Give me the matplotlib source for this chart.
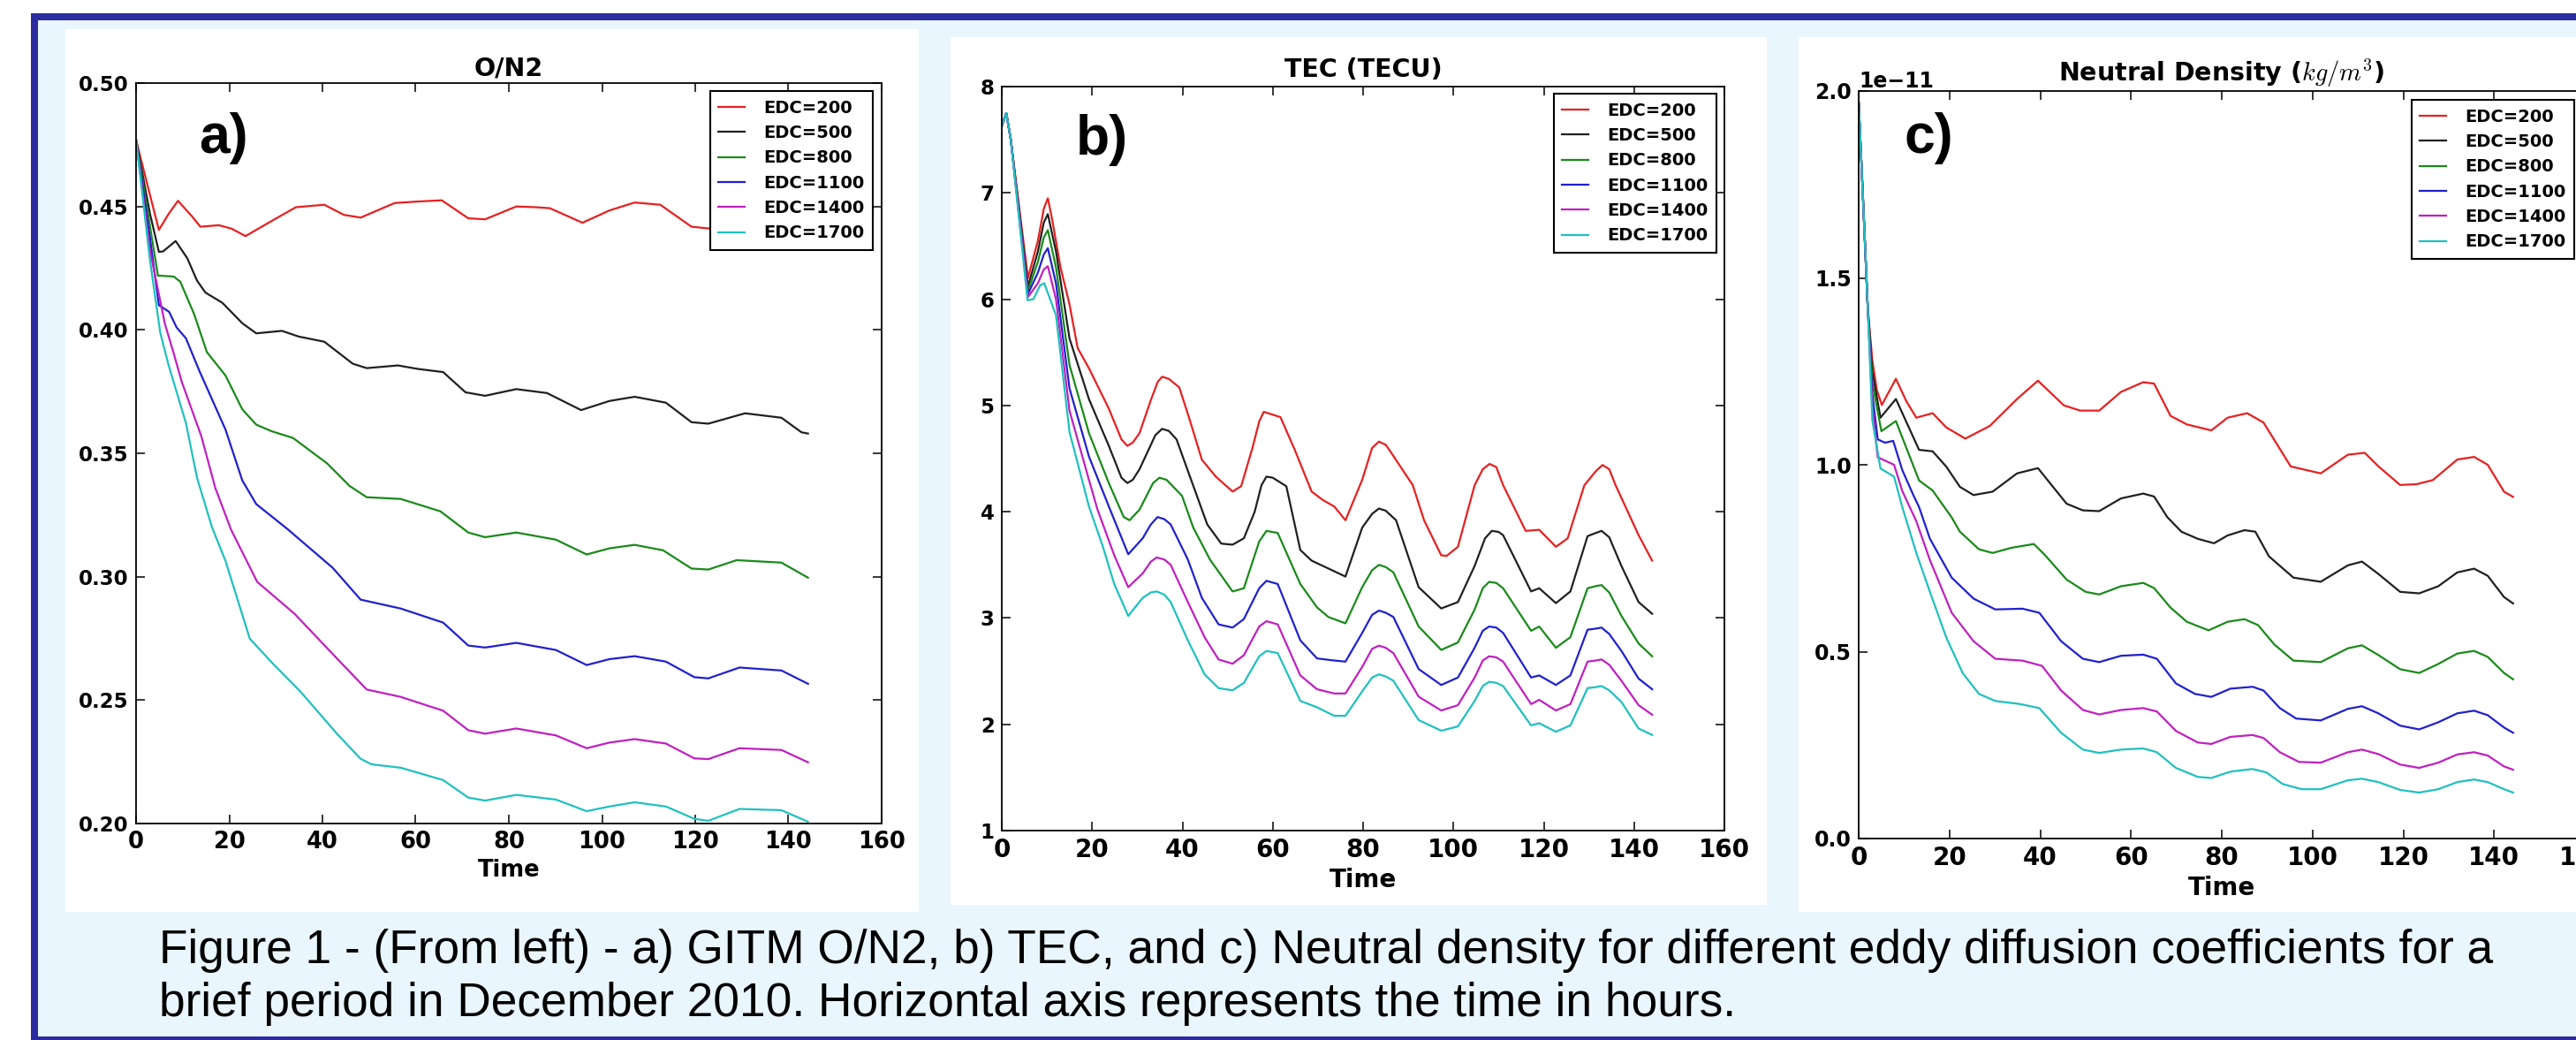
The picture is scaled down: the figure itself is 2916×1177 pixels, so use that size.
import numpy as np
import matplotlib
matplotlib.use('Agg')
import matplotlib.pyplot as plt
from matplotlib.patches import Rectangle

W, H = 2916, 1177

labels = ['EDC=200', 'EDC=500', 'EDC=800', 'EDC=1100', 'EDC=1400', 'EDC=1700']
colors = ['#e82020', '#202020', '#1a8a1a', '#2020d0', '#c020c0', '#20c0c0']

# ---- panel a: O/N2 ----
ta200 = [0, 2, 4.9, 7, 9.0, 12, 13.8, 17.8, 20.5, 23.5, 28.8, 34.3, 40.4, 44.6, 48.2, 55.5, 60.4, 65.6,
         71.3, 74.9, 81.6, 85.8, 88.8, 95.8, 101.6, 107, 112.5, 119.2, 122.8, 128, 133, 140, 144]
a200 = [0.477, 0.462, 0.4405, 0.447, 0.4523, 0.446, 0.4418, 0.4424, 0.441, 0.438, 0.4438, 0.4497, 0.4507,
        0.4466, 0.4455, 0.4514, 0.452, 0.4525, 0.4452, 0.4448, 0.45, 0.4497, 0.4493, 0.4434, 0.4484, 0.4516,
        0.4507, 0.4418, 0.4411, 0.4425, 0.4445, 0.4435, 0.442]
ta500 = [0, 3, 4.9, 5.8, 8.5, 11, 13.1, 14.9, 18.5, 22.8, 25.8, 31.3, 34.9, 40.4, 46.5, 49.5, 56.2, 60.4,
         65.9, 70.7, 74.9, 81.6, 88.2, 95.5, 101.6, 107, 113.7, 119.2, 122.8, 130.7, 138.5, 142.8, 144.2]
a500 = [0.477, 0.447, 0.4316, 0.4318, 0.436, 0.429, 0.4199, 0.4151, 0.411, 0.4027, 0.3986, 0.3996, 0.3973,
        0.3952, 0.3863, 0.3845, 0.3856, 0.3842, 0.3829, 0.3747, 0.3733, 0.376, 0.3744, 0.3675, 0.3712,
        0.3729, 0.3705, 0.3626, 0.362, 0.3662, 0.3644, 0.3585, 0.358]
ta800 = [0, 4.7, 8.1, 9.5, 12.5, 15.2, 19.2, 22.8, 25.8, 29, 33.7, 41, 45.8, 49.5, 56.8, 65.3, 71.3, 74.9,
         81.6, 90.1, 96.7, 101.6, 107, 113.1, 119.2, 122.8, 128.9, 138.5, 144.2]
a800 = [0.477, 0.422, 0.4216, 0.4195, 0.4062, 0.3910, 0.3815, 0.3678, 0.3616, 0.359, 0.3562, 0.3459,
        0.3368, 0.3322, 0.3315, 0.3265, 0.3179, 0.316, 0.3179, 0.315, 0.309, 0.3115, 0.3129, 0.3107,
        0.3033, 0.3029, 0.3067, 0.3057, 0.2996]
ta1100 = [0, 3, 4.9, 7.1, 8.7, 10.7, 13.7, 19.2, 22.8, 25.8, 32.5, 42.2, 48.2, 56.8, 65.9, 71.3, 74.9, 81.6,
          90.1, 96.7, 101.6, 107, 113.7, 119.8, 122.8, 129.5, 138.5, 144.2]
a1100 = [0.477, 0.437, 0.41, 0.4073, 0.401, 0.3966, 0.3829, 0.3596, 0.339, 0.3294, 0.3193, 0.3036, 0.2907,
         0.2871, 0.2814, 0.2721, 0.2713, 0.2732, 0.2703, 0.2642, 0.2666, 0.2678, 0.2656, 0.2593, 0.2588,
         0.2632, 0.262, 0.2566]
ta1400 = [0, 3, 6.2, 8.1, 9.8, 14, 17, 20.4, 26, 34, 43.4, 49.5, 56.8, 65.9, 71.3, 74.9, 81.6, 90.1, 96.7,
          101.6, 107, 113.7, 119.8, 122.8, 129.5, 138.5, 144.2]
a1400 = [0.477, 0.432, 0.4024, 0.3904, 0.379, 0.357, 0.336, 0.319, 0.2979, 0.285, 0.2663, 0.2543, 0.2513,
         0.2457, 0.2378, 0.2364, 0.2385, 0.2357, 0.2305, 0.2328, 0.2342, 0.2324, 0.2264, 0.2261, 0.2305,
         0.2298, 0.2248]
ta1700 = [0, 3, 5.2, 7, 10.7, 13.1, 16.3, 19.2, 24.4, 29.3, 35.3, 43.2, 48.2, 50.5, 56.8, 65.9, 71.3, 74.9,
          81.6, 90.1, 96.7, 101.6, 107, 113.7, 119.8, 122.8, 129.5, 138.5, 144.2]
a1700 = [0.477, 0.428, 0.3988, 0.3856, 0.3623, 0.340, 0.3200, 0.3064, 0.2749, 0.2649, 0.2534, 0.2362,
         0.2262, 0.224, 0.2226, 0.2176, 0.2105, 0.2093, 0.2116, 0.2097, 0.205, 0.2069, 0.2086, 0.2069,
         0.2019, 0.2011, 0.2059, 0.2054, 0.2007]

# ---- panel b: TEC ----
tb200 = [0, 1, 2, 5.8, 8, 9.3, 10.2, 11.2, 13, 15, 16.8, 19.3, 23.7, 26.5, 27.8, 29, 30.5, 33, 34.5, 35.5,
         37, 39.3, 41.5, 44.3, 47.4, 51.1, 53, 55.5, 57, 58, 61.7, 64.8, 68.6, 71.1, 73.6, 76.1, 79.8, 82,
         83.5, 85, 86, 91, 93.5, 97.3, 98.5, 101, 104.7, 106.5, 108, 109.5, 111, 116, 119, 122.7, 125.3, 129,
         131.5, 133, 134.5, 135.9, 141, 144]
b200 = [7.63, 7.75, 7.5, 6.2, 6.55, 6.85, 6.95, 6.74, 6.3, 5.95, 5.54, 5.35, 4.97, 4.68, 4.62, 4.65, 4.74,
        5.05, 5.22, 5.27, 5.25, 5.17, 4.88, 4.49, 4.33, 4.19, 4.24, 4.6, 4.85, 4.94, 4.89, 4.59, 4.19, 4.11,
        4.05, 3.92, 4.30, 4.6, 4.66, 4.63, 4.57, 4.25, 3.92, 3.59, 3.585, 3.67, 4.25, 4.4, 4.45, 4.42, 4.25,
        3.82, 3.83, 3.67, 3.75, 4.25, 4.38, 4.44, 4.4, 4.25, 3.78, 3.54]
tb500 = [0, 1, 2, 5.8, 8, 9.3, 10.2, 12, 15, 19.3, 23.7, 26.5, 27.8, 29, 30.5, 34, 35.5, 37, 38.7, 41.5,
         45.5, 48.6, 51.1, 53.6, 56, 57.5, 58.6, 60, 63, 66.1, 68.6, 71.1, 73.6, 76.1, 79.8, 82, 83.5, 85,
         87.3, 92.3, 97.3, 101, 104.7, 107, 108.5, 110, 111, 117.2, 119, 122.7, 125.9, 129.7, 131.5, 132.8,
         134.5, 137.2, 141, 144]
b500 = [7.63, 7.75, 7.5, 6.12, 6.45, 6.72, 6.80, 6.45, 5.63, 5.06, 4.62, 4.32, 4.27, 4.30, 4.40, 4.72, 4.78,
        4.76, 4.68, 4.35, 3.88, 3.70, 3.69, 3.75, 4.0, 4.25, 4.33, 4.32, 4.24, 3.64, 3.54, 3.49, 3.44, 3.39,
        3.85, 3.98, 4.03, 4.01, 3.92, 3.29, 3.09, 3.15, 3.49, 3.75, 3.82, 3.81, 3.78, 3.25, 3.28, 3.14, 3.25,
        3.77, 3.8, 3.82, 3.76, 3.49, 3.15, 3.04]
tb800 = [0, 1, 2, 5.8, 8, 9.3, 10.2, 12, 15, 19.3, 23.7, 27, 28.3, 30.5, 33.5, 34.9, 36.5, 39.9, 42.4, 46.1,
         51.1, 53.6, 57, 58.6, 61.1, 66.1, 69.8, 72.3, 76.1, 79.8, 82, 83.5, 85, 86.7, 92.3, 97.3, 101, 104.7,
         106.5, 107.9, 109.5, 111, 117.2, 119, 122.7, 125.9, 129.7, 131.5, 132.8, 134.5, 137.2, 141, 144]
b800 = [7.63, 7.75, 7.5, 6.08, 6.35, 6.58, 6.65, 6.3, 5.38, 4.74, 4.27, 3.95, 3.92, 4.02, 4.27, 4.32, 4.3,
        4.15, 3.85, 3.55, 3.25, 3.28, 3.72, 3.82, 3.80, 3.32, 3.10, 3.01, 2.95, 3.29, 3.45, 3.50, 3.48, 3.43,
        2.92, 2.70, 2.77, 3.08, 3.28, 3.34, 3.33, 3.28, 2.88, 2.92, 2.72, 2.82, 3.28, 3.3, 3.31, 3.24, 3.02,
        2.76, 2.64]
tb1100 = [0, 1, 2, 5.8, 8, 9.3, 10.2, 12, 15, 19.3, 23.7, 28, 31.2, 33, 34.5, 36, 37.4, 41.2, 44.3, 48, 51.1,
          53.6, 57, 58.6, 61.1, 66.1, 69.8, 73.6, 76.1, 79.8, 82, 83.5, 85, 86.7, 92.3, 97.3, 101, 104.7,
          106.5, 107.9, 109.5, 111, 117.2, 119, 122.7, 125.9, 129.7, 131.5, 132.8, 134.5, 137.2, 141, 144]
b1100 = [7.63, 7.75, 7.5, 6.05, 6.25, 6.42, 6.48, 6.15, 5.16, 4.52, 4.05, 3.60, 3.75, 3.88, 3.95, 3.93, 3.88,
         3.55, 3.19, 2.94, 2.91, 2.99, 3.28, 3.35, 3.32, 2.79, 2.62, 2.60, 2.59, 2.86, 3.03, 3.07, 3.05, 3.01,
         2.52, 2.37, 2.44, 2.72, 2.88, 2.92, 2.91, 2.86, 2.44, 2.46, 2.37, 2.46, 2.89, 2.9, 2.91, 2.85, 2.69,
         2.43, 2.33]
tb1400 = [0, 1, 2, 5.8, 8, 9.3, 10.2, 12, 15, 19.3, 21.2, 24.9, 28, 31.2, 33, 34.3, 36, 37.4, 41.2, 44.9, 48,
          51.1, 53.6, 57, 58.6, 61.1, 66.1, 69.8, 73.6, 76.1, 79.8, 82, 83.5, 85, 86.7, 92.3, 97.3, 101,
          104.7, 106.5, 107.9, 109.5, 111, 117.2, 119, 122.7, 125.9, 129.7, 131.5, 132.8, 134.5, 137.2, 141,
          144]
b1400 = [7.63, 7.75, 7.5, 6.02, 6.15, 6.28, 6.31, 6.0, 4.95, 4.30, 4.02, 3.59, 3.29, 3.42, 3.53, 3.57, 3.55,
         3.50, 3.15, 2.82, 2.61, 2.57, 2.65, 2.92, 2.97, 2.94, 2.46, 2.33, 2.29, 2.29, 2.54, 2.71, 2.74, 2.72,
         2.67, 2.26, 2.13, 2.18, 2.44, 2.6, 2.64, 2.63, 2.59, 2.19, 2.23, 2.13, 2.19, 2.59, 2.6, 2.61, 2.56,
         2.41, 2.18, 2.09]
tb1700 = [0, 1, 2, 5.7, 7, 8.5, 9.4, 12, 15, 19.3, 22.4, 24.9, 28, 31.2, 33, 34.3, 36, 37.4, 41.2, 44.9, 48,
          51.1, 53.6, 57, 58.6, 61.1, 66.1, 69.8, 73.6, 76.1, 79.8, 82, 83.5, 85, 86.7, 92.3, 97.3, 101,
          104.7, 106.5, 107.9, 109.5, 111, 117.2, 119, 122.7, 125.9, 129.7, 131.5, 132.8, 134.5, 137.2, 141,
          144]
b1700 = [7.63, 7.75, 7.5, 5.99, 6.0, 6.13, 6.15, 5.85, 4.75, 4.05, 3.67, 3.32, 3.02, 3.19, 3.24, 3.25, 3.22,
         3.15, 2.79, 2.47, 2.34, 2.32, 2.39, 2.64, 2.69, 2.67, 2.22, 2.16, 2.08, 2.08, 2.31, 2.44, 2.47, 2.45,
         2.41, 2.04, 1.94, 1.98, 2.22, 2.36, 2.40, 2.39, 2.36, 1.99, 2.01, 1.93, 1.99, 2.34, 2.35, 2.36, 2.32,
         2.21, 1.96, 1.90]

# ---- panel c: neutral density (units of 1e-11 kg/m3) ----
tc200 = [0, 1, 2, 3, 4, 5.1, 8.2, 10.5, 12.7, 16.3, 19.3, 23.5, 28.9, 34.9, 39.5, 45.2, 48.8, 53, 57.8, 62.7,
         65.1, 68.7, 72.3, 77.7, 81.3, 85.6, 89.2, 95.2, 101.8, 107.8, 111.5, 114.5, 119.3, 122.9, 126.5,
         131.9, 135.6, 138.6, 142.2, 144.2]
c200 = [1.97, 1.70, 1.42, 1.28, 1.20, 1.16, 1.23, 1.17, 1.126, 1.138, 1.10, 1.07, 1.104, 1.176, 1.225,
        1.159, 1.145, 1.145, 1.195, 1.221, 1.217, 1.131, 1.108, 1.092, 1.126, 1.138, 1.113, 0.9955, 0.977,
        1.027, 1.032, 0.996, 0.946, 0.948, 0.959, 1.014, 1.021, 1.0, 0.928, 0.914]
tc500 = [0, 1, 2, 3, 4.8, 8.2, 13.3, 16.3, 19.3, 22.3, 25.3, 29.5, 34.9, 39.5, 45.8, 49.4, 53, 57.8, 62.7,
         65.1, 68, 71.1, 74.7, 78.3, 81.3, 85, 87.4, 90.4, 95.8, 101.8, 107.8, 110.9, 114.5, 119.3, 123.5,
         127.7, 131.9, 135.6, 138.6, 142.2, 144.2]
c500 = [1.97, 1.70, 1.42, 1.25, 1.126, 1.176, 1.04, 1.036, 0.995, 0.941, 0.919, 0.928, 0.977, 0.991, 0.896,
        0.878, 0.876, 0.91, 0.923, 0.915, 0.86, 0.821, 0.802, 0.79, 0.811, 0.825, 0.821, 0.755, 0.698, 0.687,
        0.731, 0.741, 0.708, 0.660, 0.656, 0.675, 0.712, 0.722, 0.703, 0.646, 0.629]
tc800 = [0, 1, 2, 3, 5, 8.2, 13.3, 16.3, 20.5, 22.3, 26.5, 29.5, 33.7, 38.6, 41, 45.8, 50, 53, 57.8, 62.7,
         65.1, 68.7, 72.3, 77.1, 81.3, 85, 88, 91.6, 95.8, 101.8, 107.8, 110.9, 114.5, 119.3, 123.5, 127.7,
         131.9, 135.6, 138.6, 142.2, 144.2]
c800 = [1.97, 1.70, 1.42, 1.22, 1.09, 1.117, 0.958, 0.931, 0.859, 0.821, 0.774, 0.764, 0.778, 0.788, 0.759,
        0.693, 0.66, 0.653, 0.675, 0.684, 0.670, 0.618, 0.58, 0.557, 0.58, 0.587, 0.571, 0.519, 0.476, 0.472,
        0.509, 0.517, 0.491, 0.453, 0.443, 0.467, 0.495, 0.502, 0.486, 0.443, 0.426]
tc1100 = [0, 1, 2, 3, 4.2, 5.8, 7.6, 9.6, 12, 13.3, 15.7, 20.5, 25.3, 30.1, 36.1, 39.8, 44.6, 49.4, 53, 57.8,
          62.7, 65.7, 69.9, 74.1, 77.7, 81.9, 86.8, 89.2, 92.8, 96.4, 101.8, 107.8, 110.9, 114.5, 119.3,
          123.5, 127.7, 131.9, 135.6, 138.6, 142.2, 144.2]
c1100 = [1.97, 1.70, 1.42, 1.19, 1.068, 1.059, 1.064, 0.986, 0.92, 0.887, 0.802, 0.698, 0.642, 0.613, 0.615,
         0.604, 0.528, 0.481, 0.472, 0.489, 0.492, 0.481, 0.415, 0.387, 0.379, 0.401, 0.406, 0.396, 0.349,
         0.321, 0.316, 0.347, 0.354, 0.335, 0.302, 0.292, 0.311, 0.335, 0.342, 0.330, 0.297, 0.283]
tc1400 = [0, 1, 2, 3, 4.2, 6, 7.8, 9.6, 12.7, 15.7, 20.5, 25.3, 30.1, 36.1, 40.4, 44.6, 49.4, 53, 57.8, 62.7,
          65.7, 69.9, 74.7, 77.7, 81.9, 86.8, 89.2, 92.8, 97, 101.8, 107.8, 110.9, 114.5, 119.3, 123.5,
          127.7, 131.9, 135.6, 138.6, 142.2, 144.2]
c1400 = [1.97, 1.70, 1.42, 1.16, 1.02, 1.01, 1.0, 0.93, 0.849, 0.745, 0.604, 0.528, 0.481, 0.476, 0.462,
         0.396, 0.344, 0.332, 0.344, 0.349, 0.340, 0.288, 0.257, 0.253, 0.272, 0.277, 0.269, 0.231, 0.205,
         0.203, 0.231, 0.238, 0.226, 0.198, 0.189, 0.203, 0.225, 0.231, 0.222, 0.193, 0.184]
tc1700 = [0, 1, 2, 3, 4.8, 6.6, 7.8, 9.6, 12.7, 15.7, 19.3, 22.9, 26.5, 30.1, 35.5, 39.8, 44.6, 49.4, 53,
          57.8, 62.7, 65.7, 69.9, 74.7, 77.7, 81.9, 86.8, 89.8, 93.4, 97.6, 101.8, 107.8, 110.9, 114.5,
          119.3, 123.5, 127.7, 131.9, 135.6, 138.6, 142.2, 144.2]
c1700 = [1.97, 1.70, 1.42, 1.12, 0.99, 0.977, 0.968, 0.887, 0.764, 0.660, 0.538, 0.443, 0.387, 0.368, 0.360,
         0.349, 0.283, 0.238, 0.229, 0.238, 0.241, 0.231, 0.189, 0.165, 0.162, 0.179, 0.186, 0.177, 0.146,
         0.132, 0.132, 0.156, 0.160, 0.151, 0.130, 0.123, 0.132, 0.151, 0.158, 0.151, 0.132, 0.123]

caption1 = ('Figure 1 - (From left) - a) GITM O/N2, b) TEC, and c) Neutral density for different '
            'eddy diffusion coefficients for a')
caption2 = 'brief period in December 2010. Horizontal axis represents the time in hours.'

plt.rcParams['font.family'] = 'DejaVu Sans'
plt.rcParams['font.weight'] = 'bold'
plt.rcParams['mathtext.fontset'] = 'cm'

fig = plt.figure(figsize=(W / 100, H / 100), dpi=100)
fig.patch.set_facecolor('white')


def box(x0, y0, x1, y1, color):
    fig.add_artist(Rectangle((x0 / W, 1 - y1 / H), (x1 - x0) / W, (y1 - y0) / H,
                             transform=fig.transFigure, facecolor=color,
                             edgecolor='none', zorder=-5))


# poster frame and panel backgrounds
box(35, 15, W + 10, H + 10, '#2c2ca0')
box(43, 23, W + 10, 1173, '#eaf6fd')
box(74, 33, 1040, 1032, 'white')
box(1076, 42, 2000, 1024, 'white')
box(2036, 42, W + 10, 1032, 'white')


def panel(l, t, r, b, series, title, ylim, yticks, xsize, ysize, leg_xy, tpad, scale=1.0):
    ax = fig.add_axes([l / W, 1 - b / H, (r - l) / W, (b - t) / H])
    for (tt, vv), c, lab in zip(series, colors, labels):
        ax.plot(tt, np.array(vv) * scale, color=c, lw=1.6, label=lab)
    ax.set_xlim(0, 160)
    ax.set_ylim(*ylim)
    ax.set_xticks(range(0, 161, 20))
    ax.set_yticks(yticks)
    ax.tick_params(direction='in', top=True, right=True, length=7, width=1.1, pad=6)
    ax.tick_params(axis='x', labelsize=xsize)
    ax.tick_params(axis='y', labelsize=ysize)
    ax.yaxis.get_offset_text().set_fontsize(ysize)
    for s in ax.spines.values():
        s.set_linewidth(1.3)
    ax.set_xlabel('Time', fontsize=xsize, fontweight='bold', labelpad=4)
    ax.set_title(title, fontsize=20.5, fontweight='bold', pad=tpad)
    leg = ax.legend(loc='upper right', bbox_to_anchor=(leg_xy[0] / W, 1 - leg_xy[1] / H),
                    bbox_transform=fig.transFigure, borderaxespad=0, fontsize=14,
                    handlelength=1.5, handletextpad=1.1, borderpad=0.5, labelspacing=0.48,
                    fancybox=False, framealpha=1)
    leg.get_frame().set_edgecolor('black')
    leg.get_frame().set_linewidth(1.5)
    return ax


panel(154, 94, 998, 932,
      [(ta200, a200), (ta500, a500), (ta800, a800), (ta1100, a1100), (ta1400, a1400), (ta1700, a1700)],
      'O/N2', (0.20, 0.50), np.arange(0.20, 0.501, 0.05), 18.5, 16.5, (988, 103), 6)
panel(1134, 98, 1952, 940,
      [(tb200, b200), (tb500, b500), (tb800, b800), (tb1100, b1100), (tb1400, b1400), (tb1700, b1700)],
      'TEC (TECU)', (1, 8), range(1, 9), 20, 16.5, (1943, 106), 8)
panel(2104, 103, 2926, 949,
      [(tc200, c200), (tc500, c500), (tc800, c800), (tc1100, c1100), (tc1400, c1400), (tc1700, c1700)],
      r'Neutral Density ($kg/m^3$)', (0, 2e-11), [0, 0.5e-11, 1e-11, 1.5e-11, 2e-11], 20, 17,
      (2914, 113), 8, scale=1e-11)

for x, y, s in [(225, 173, 'a)'), (1218, 175, 'b)'), (2156, 173, 'c)')]:
    fig.text(x / W, 1 - y / H, s, fontsize=45, fontweight='bold',
             family=['Liberation Sans', 'DejaVu Sans'], va='baseline', ha='left')

# caption: size chosen so that the first line spans the same width as in the poster
cap1 = fig.text(180 / W, 1 - 1090 / H, caption1, fontsize=36, fontweight='normal',
                family=['Liberation Sans', 'DejaVu Sans'], va='baseline', ha='left')
renderer = fig.canvas.get_renderer()
cap_size = 36 * (2822 - 180) / cap1.get_window_extent(renderer).width
cap1.set_fontsize(cap_size)
fig.text(180 / W, 1 - 1150 / H, caption2, fontsize=cap_size, fontweight='normal',
         family=['Liberation Sans', 'DejaVu Sans'], va='baseline', ha='left')

fig.savefig('out.png', dpi=100, facecolor=fig.get_facecolor())
